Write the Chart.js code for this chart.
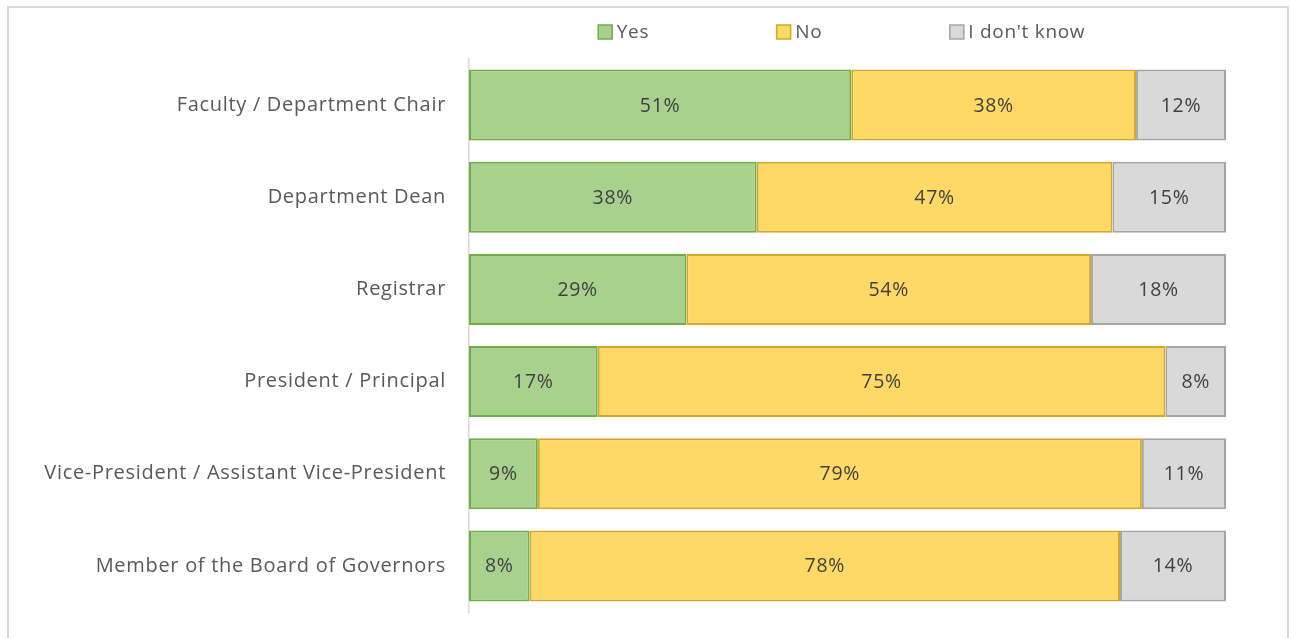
<!DOCTYPE html>
<html>
<head>
<meta charset="utf-8">
<script src="https://cdn.jsdelivr.net/npm/chart.js@4/dist/chart.umd.min.js"></script>
<style>
  html, body { margin: 0; padding: 0; background: #fff; overflow: hidden; }
  #frame { position: absolute; left: 7px; top: 6px; width: 1282px; height: 640px; border: 2px solid #d9d9d9; box-sizing: border-box; }
  #c { position: absolute; left: 0; top: 0; }
</style>
</head>
<body>
<div id="frame"></div>
<canvas id="c" width="1292" height="638"></canvas>
<script>
const categories = [
  "Faculty / Department Chair",
  "Department Dean",
  "Registrar",
  "President / Principal",
  "Vice-President / Assistant Vice-President",
  "Member of the Board of Governors"
];
const seriesNames = ["Yes", "No", "I don't know"];
const yesValues = [51, 38, 29, 17, 9, 8];
const noValues = [38, 47, 54, 75, 79, 78];
const dontKnowValues = [12, 15, 18, 8, 11, 14];

const fills = ["#A9D18E", "#FFD966", "#D9D9D9"];
const borders = ["#70AD47", "#D4A72C", "#A5A5A5"];
const FONT = "'Open Sans', Lato, sans-serif";
const SPACING = "0.7px";

const raw = [yesValues, noValues, dontKnowValues];
const totals = categories.map((_, i) => raw.reduce((s, arr) => s + arr[i], 0));

const datasets = raw.map((arr, k) => ({
  label: seriesNames[k],
  data: arr.map((v, i) => v / totals[i] * 100),
  rawValues: arr,
  backgroundColor: fills[k],
  borderColor: borders[k],
  borderWidth: 2,
  borderSkipped: false,
  categoryPercentage: 0.77,
  barPercentage: 1.0
}));

const spacingPlugin = {
  id: 'spacing',
  beforeDraw(chart) { chart.ctx.letterSpacing = SPACING; }
};

const labelPlugin = {
  id: 'barLabels',
  afterDatasetsDraw(chart) {
    const ctx = chart.ctx;
    ctx.save();
    ctx.letterSpacing = SPACING;
    ctx.font = "19.5px " + FONT;
    ctx.fillStyle = "#404040";
    ctx.textAlign = "center";
    ctx.textBaseline = "middle";
    chart.data.datasets.forEach((ds, di) => {
      const meta = chart.getDatasetMeta(di);
      meta.data.forEach((bar, i) => {
        const cx = (bar.x + bar.base) / 2;
        ctx.fillText(ds.rawValues[i] + "%", cx, bar.y + 1);
      });
    });
    ctx.restore();
  }
};

const legendPlugin = {
  id: 'customLegend',
  afterDraw(chart) {
    const ctx = chart.ctx;
    const area = chart.chartArea;
    ctx.save();
    ctx.letterSpacing = SPACING;
    ctx.font = "19px " + FONT;
    const box = 14, gapText = 5, gapItem = 127;
    const items = chart.data.datasets.map(ds => ({ text: ds.label, w: ctx.measureText(ds.label).width, fill: ds.backgroundColor, stroke: ds.borderColor }));
    let total = items.reduce((s, it) => s + box + gapText + it.w, 0) + gapItem * (items.length - 1);
    let x = (area.left + area.right) / 2 - 6 - total / 2;
    const y = 32;
    items.forEach(it => {
      ctx.fillStyle = it.fill;
      ctx.fillRect(x + 0.5, y - box / 2, box, box);
      ctx.strokeStyle = it.stroke;
      ctx.lineWidth = 1.5;
      ctx.strokeRect(x + 0.5, y - box / 2, box, box);
      ctx.fillStyle = "#595959";
      ctx.textBaseline = "middle";
      ctx.textAlign = "left";
      ctx.fillText(it.text, x + box + gapText, y + 1);
      x += box + gapText + it.w + gapItem;
    });
    ctx.restore();
  }
};

new Chart(document.getElementById('c'), {
  type: 'bar',
  data: { labels: categories, datasets },
  options: {
    indexAxis: 'y',
    responsive: false,
    maintainAspectRatio: false,
    animation: false,
    layout: { padding: { left: 0, right: 66, top: 59, bottom: 26 } },
    plugins: { legend: { display: false }, tooltip: { enabled: false } },
    scales: {
      x: { stacked: true, min: 0, max: 100, display: false },
      y: {
        stacked: true,
        grid: { display: false, drawTicks: false },
        border: { display: true, color: "#d9d9d9", width: 1.5 },
        ticks: { color: "#595959", font: { size: 20, family: FONT }, padding: 23 },
        afterFit(scale) { scale.width = 469; scale.paddingTop = 0; scale.paddingBottom = 0; }
      }
    }
  },
  plugins: [spacingPlugin, labelPlugin, legendPlugin]
});
</script>
</body>
</html>
